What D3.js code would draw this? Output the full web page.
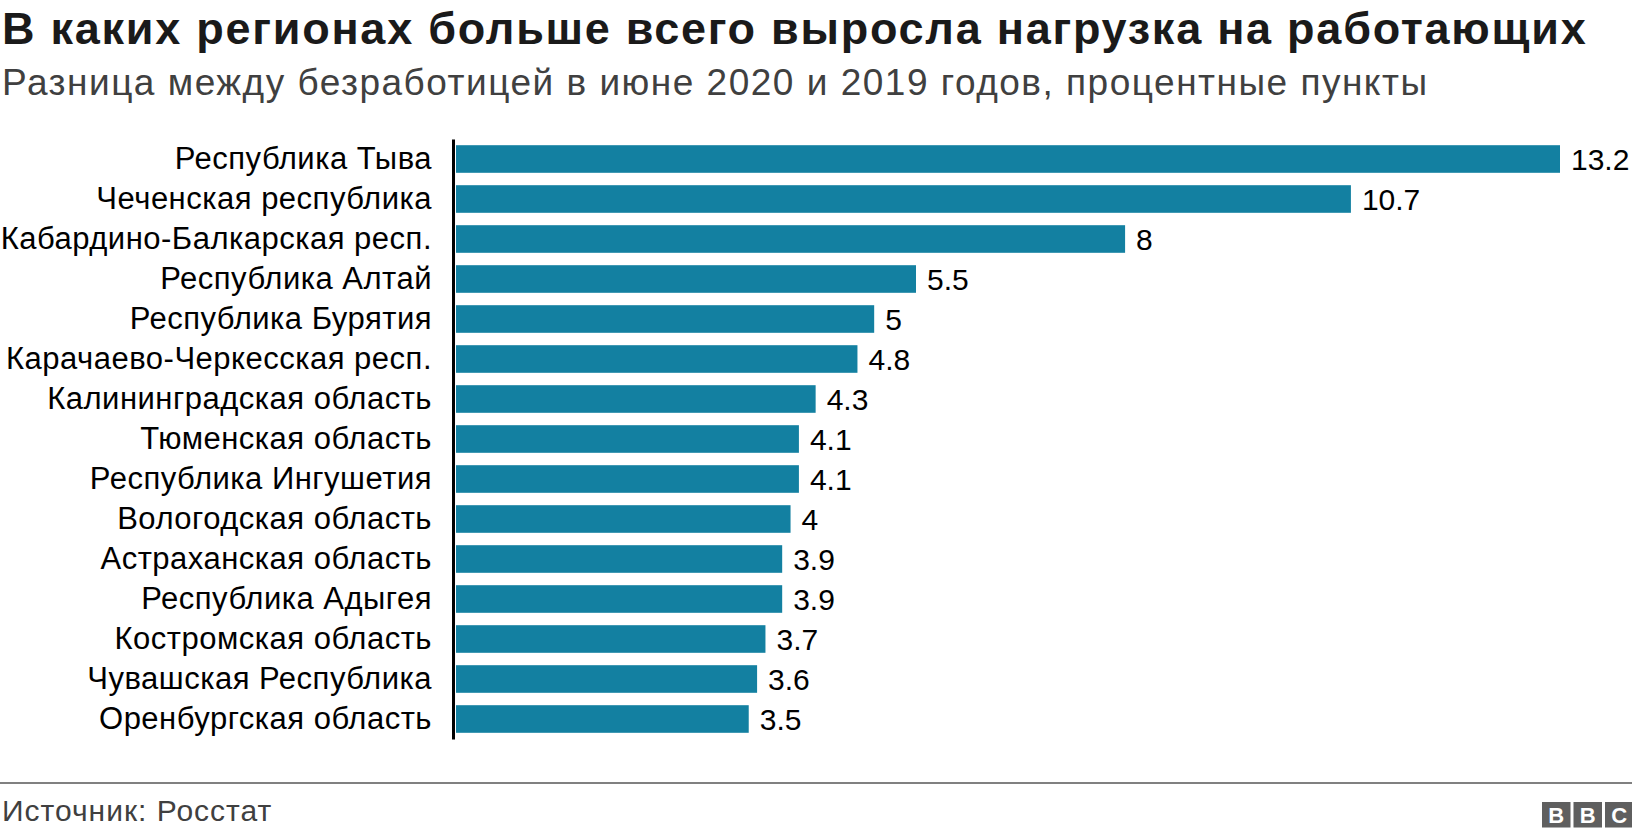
<!DOCTYPE html>
<html>
<head>
<meta charset="utf-8">
<script src="https://cdn.jsdelivr.net/npm/d3@7"></script>
<style>
  body { margin: 0; background: #fff; }
  text { font-family: "Liberation Sans", Arial, Helvetica, sans-serif; }
</style>
</head>
<body>
<div id="chart"></div>
<script>
var regions = [
    "Республика Тыва",
    "Чеченская республика",
    "Кабардино-Балкарская респ.",
    "Республика Алтай",
    "Республика Бурятия",
    "Карачаево-Черкесская респ.",
    "Калининградская область",
    "Тюменская область",
    "Республика Ингушетия",
    "Вологодская область",
    "Астраханская область",
    "Республика Адыгея",
    "Костромская область",
    "Чувашская Республика",
    "Оренбургская область"
];
var values = [13.2, 10.7, 8, 5.5, 5, 4.8, 4.3, 4.1, 4.1, 4, 3.9, 3.9, 3.7, 3.6, 3.5];
var valueLabels = ["13.2", "10.7", "8", "5.5", "5", "4.8", "4.3", "4.1", "4.1", "4", "3.9", "3.9", "3.7", "3.6", "3.5"];

var title = "В каких регионах больше всего выросла нагрузка на работающих";
var subtitle = "Разница между безработицей в июне 2020 и 2019 годов, процентные пункты";
var source = "Источник: Росстат";

var width = 1632, height = 838;

var svg = d3.select("#chart")
    .append("svg")
    .attr("width", width)
    .attr("height", height);

// title + subtitle
svg.append("text")
    .attr("x", 2)
    .attr("y", 44)
    .attr("font-size", 45)
    .attr("font-weight", "bold")
    .attr("letter-spacing", 1.75)
    .attr("fill", "#1a1a1a")
    .text(title);

svg.append("text")
    .attr("x", 2)
    .attr("y", 95)
    .attr("font-size", 37)
    .attr("letter-spacing", 1.5)
    .attr("fill", "#404040")
    .text(subtitle);

var x = d3.scaleLinear()
    .domain([0, d3.max(values)])
    .range([456, 1560]);

var y = d3.scaleBand()
    .domain(regions)
    .range([139, 739])
    .paddingInner(0.31)
    .paddingOuter(0.155);

var data = regions.map(function (r, i) { return { region: r, value: values[i], label: valueLabels[i] }; });

// bars
svg.append("g")
    .selectAll("rect")
    .data(data)
    .enter().append("rect")
    .attr("x", x(0))
    .attr("y", function (d) { return y(d.region); })
    .attr("width", function (d) { return x(d.value) - x(0); })
    .attr("height", y.bandwidth())
    .attr("fill", "#1380A1");

// value labels
svg.append("g")
    .selectAll("text")
    .data(data)
    .enter().append("text")
    .attr("x", function (d) { return x(d.value) + 11; })
    .attr("y", function (d) { return y(d.region) + y.bandwidth() / 2; })
    .attr("dy", "0.36em")
    .attr("font-size", 30)
    .attr("fill", "#000")
    .text(function (d) { return d.label; });

// category labels via left axis
var yAxis = svg.append("g")
    .attr("transform", "translate(453,0)")
    .call(d3.axisLeft(y).tickSize(0).tickPadding(21));

yAxis.select(".domain")
    .attr("stroke", "#000")
    .attr("stroke-width", 3);

yAxis.selectAll(".tick text")
    .attr("font-size", 31)
    .attr("letter-spacing", 0.5)
    .attr("fill", "#000")
    .style("font-family", "'Liberation Sans', Arial, sans-serif");

// footer
svg.append("line")
    .attr("x1", 0)
    .attr("x2", width)
    .attr("y1", 783)
    .attr("y2", 783)
    .attr("stroke", "#808080")
    .attr("stroke-width", 2);

svg.append("text")
    .attr("x", 2)
    .attr("y", 821)
    .attr("font-size", 30)
    .attr("letter-spacing", 1)
    .attr("fill", "#404040")
    .text(source);

// BBC blocks
var letters = ["B", "B", "C"];
var logo = svg.append("g").attr("transform", "translate(1542,802)");
logo.selectAll("rect")
    .data(letters)
    .enter().append("rect")
    .attr("x", function (d, i) { return i * 31.5; })
    .attr("y", 0)
    .attr("width", 28.5)
    .attr("height", 25.5)
    .attr("fill", "#5f5f5f");
logo.selectAll("text")
    .data(letters)
    .enter().append("text")
    .attr("x", function (d, i) { return i * 31.5 + 14.25; })
    .attr("y", 21)
    .attr("text-anchor", "middle")
    .attr("font-size", 22)
    .attr("font-weight", "bold")
    .attr("fill", "#fff")
    .text(function (d) { return d; });
</script>
</body>
</html>
